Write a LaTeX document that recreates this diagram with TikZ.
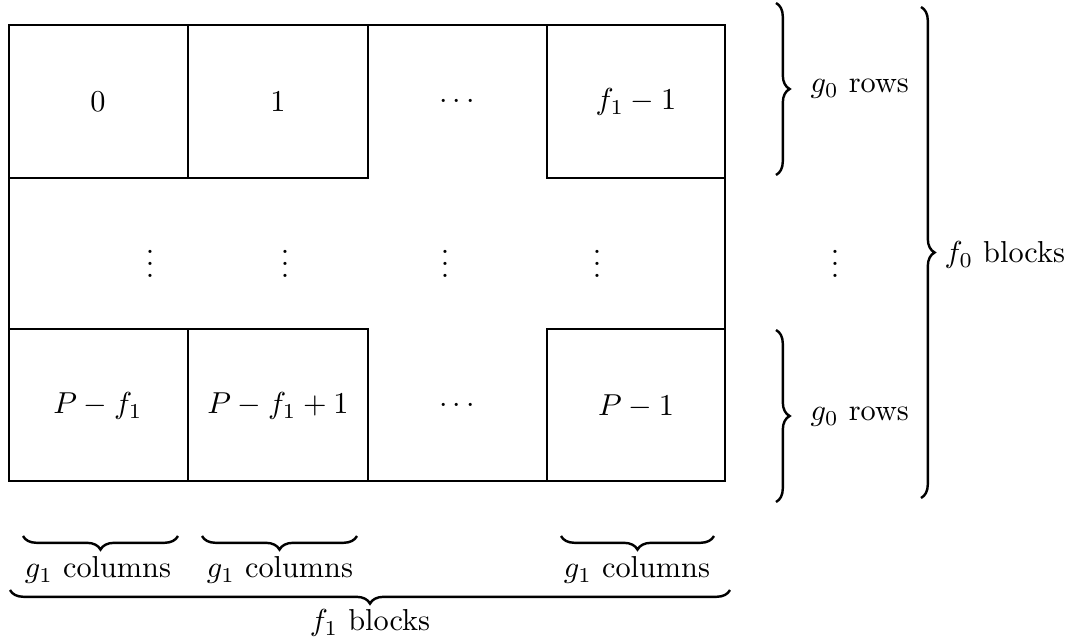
\documentclass[tikz,border=0pt]{standalone}
\usetikzlibrary{decorations.pathreplacing}

\begin{document}
\begin{tikzpicture}[x=0.33pt, y=-0.33pt]
\tikzset{brace/.style={decorate, decoration={brace, amplitude=4.5pt}, line width=.8pt}}
\useasboundingbox (0,0) rectangle (1075,641);
\draw (9,25) rectangle (725,481);
\foreach \a/\b in {9/188, 188/368, 547/725} {
 \draw (\a,25) rectangle (\b,178);
 \draw (\a,329) rectangle (\b,481);
}
% top row
\node (t0) at (98,102) {$0$};
\node (t1) at (278,102) {$1$};
\node (t2) at (457,102) {$\cdots$};
\node (t3) at (636,102) {$f_1-1$};
% middle row
\foreach \x/\n in {150/m0, 285/m1, 445/m2, 597/m3, 835/m4}
 \node (\n) at (\x,255) {$\vdots$};
% bottom row
\node (u0) at (98,406) {$P-f_1$};
\node (u1) at (278,406) {$P-f_1+1$};
\node (u2) at (457,406) {$\cdots$};
\node (u3) at (636,406) {$P-1$};
% braces on the right
\coordinate (ra) at (776,3);   \coordinate (rb) at (776,175);
\coordinate (rc) at (776,330); \coordinate (rd) at (776,502);
\coordinate (re) at (921,7);   \coordinate (rf) at (921,498);
\draw[brace] (ra) -- (rb);
\draw[brace] (rc) -- (rd);
\draw[brace] (re) -- (rf);
\node[anchor=west] (rows0) at (800,89) {$g_0$ rows};
\node[anchor=west] (rows1) at (800,417) {$g_0$ rows};
\node[anchor=west] (blk0) at (934,255) {$f_0$ blocks};
% braces below
\coordinate (ba) at (178,536); \coordinate (bb) at (23,536);
\coordinate (bc) at (357,536); \coordinate (bd) at (202,536);
\coordinate (be) at (714,536); \coordinate (bf) at (561,536);
\coordinate (bg) at (730,590); \coordinate (bh) at (10,590);
\draw[brace] (ba) -- (bb);
\draw[brace] (bc) -- (bd);
\draw[brace] (be) -- (bf);
\draw[brace] (bg) -- (bh);
\node (cols0) at (98,570) {$g_1$ columns};
\node (cols1) at (280,570) {$g_1$ columns};
\node (cols2) at (637,570) {$g_1$ columns};
\node (blk1) at (370,623) {$f_1$ blocks};
\end{tikzpicture}
\end{document}
